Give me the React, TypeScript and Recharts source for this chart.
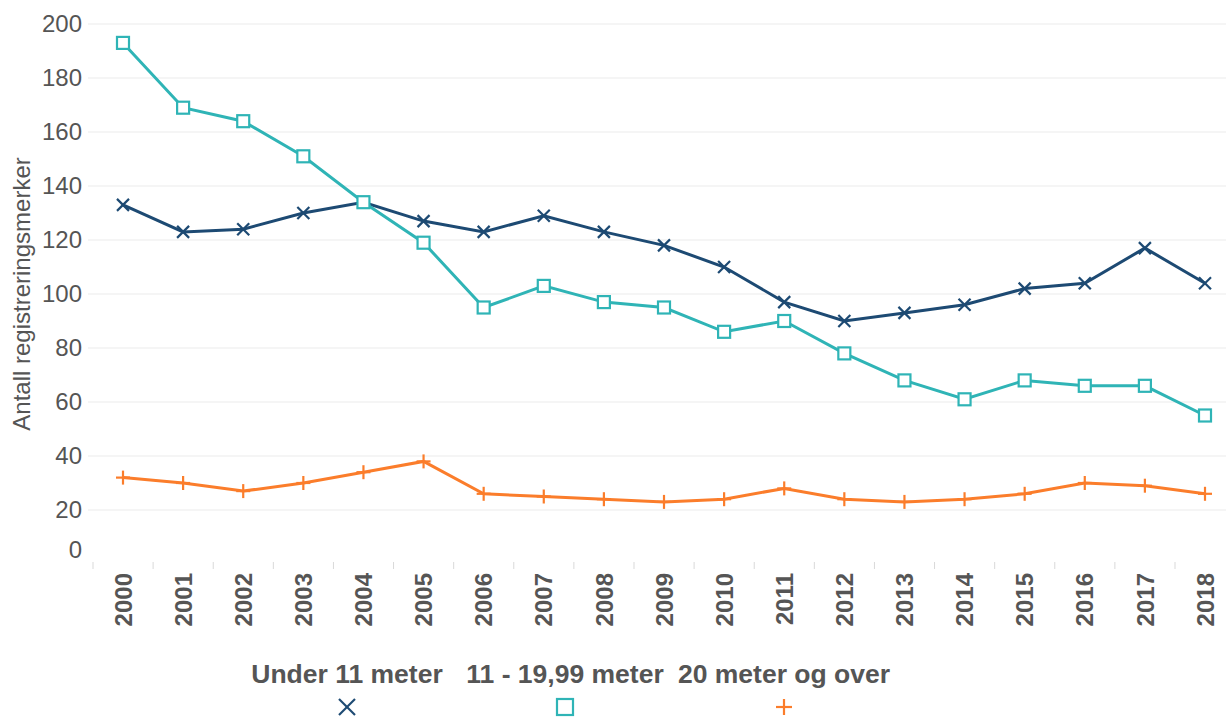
import React from 'react';
import { LineChart, Line, XAxis, YAxis, CartesianGrid } from 'recharts';

const years = ['2000', '2001', '2002', '2003', '2004', '2005', '2006', '2007', '2008', '2009', '2010', '2011', '2012', '2013', '2014', '2015', '2016', '2017', '2018'];
const under11 = [133, 123, 124, 130, 134, 127, 123, 129, 123, 118, 110, 97, 90, 93, 96, 102, 104, 117, 104];
const mid11to20 = [193, 169, 164, 151, 134, 119, 95, 103, 97, 95, 86, 90, 78, 68, 61, 68, 66, 66, 55];
const over20 = [32, 30, 27, 30, 34, 38, 26, 25, 24, 23, 24, 28, 24, 23, 24, 26, 30, 29, 26];
const yTicks = [0, 20, 40, 60, 80, 100, 120, 140, 160, 180, 200];

const NAVY = '#1d4a73';
const TEAL = '#2fb4b6';
const ORANGE = '#fb7d2b';
const TEXT = '#555555';
const FONT = '"Liberation Sans", Arial, sans-serif';

const data = years.map((y, i) => ({
  year: y,
  under11: under11[i],
  mid: mid11to20[i],
  over20: over20[i],
}));

const XMark = ({ cx, cy, color, s = 6 }: any) => (
  <g stroke={color} strokeWidth={2.2}>
    <line x1={cx - s} y1={cy - s} x2={cx + s} y2={cy + s} />
    <line x1={cx - s} y1={cy + s} x2={cx + s} y2={cy - s} />
  </g>
);

const SquareMark = ({ cx, cy, color, s = 6 }: any) => (
  <rect x={cx - s} y={cy - s} width={s * 2} height={s * 2} fill="#fff" stroke={color} strokeWidth={2.2} />
);

const PlusMark = ({ cx, cy, color, s = 7 }: any) => (
  <g stroke={color} strokeWidth={2.2}>
    <line x1={cx - s} y1={cy} x2={cx + s} y2={cy} />
    <line x1={cx} y1={cy - s} x2={cx} y2={cy + s} />
  </g>
);

const YTick = ({ x, y, payload }: any) => (
  <text
    x={x + 2}
    y={payload.value === 0 ? y - 14 : y}
    dy="0.35em"
    textAnchor="end"
    fill={TEXT}
    fontSize={24}
    fontFamily={FONT}
  >
    {payload.value}
  </text>
);

const XTick = ({ x, y, payload }: any) => (
  <g>
    <line x1={x - 30} y1={y - 10} x2={x - 30} y2={y - 3} stroke="#d9d9d9" />
    <text
      transform={`translate(${x},${y + 1}) rotate(-90)`}
      dy="0.36em"
      textAnchor="end"
      fill={TEXT}
      fontSize={24}
      fontWeight="bold"
      fontFamily={FONT}
    >
      {payload.value}
    </text>
  </g>
);

const legendItems = [
  { label: 'Under 11 meter', x: 347, Mark: XMark, color: NAVY },
  { label: '11 - 19,99 meter', x: 565, Mark: SquareMark, color: TEAL },
  { label: '20 meter og over', x: 784, Mark: PlusMark, color: ORANGE },
];

export default function App() {
  return (
    <div style={{ position: 'absolute', left: 0, top: 0, width: 1226, height: 719, background: '#fff' }}>
      <LineChart width={1226} height={719} data={data} margin={{ top: 24, right: 0, left: 0, bottom: 75 }}>
        <CartesianGrid
          vertical={false}
          stroke="#ebebeb"
          horizontalValues={[20, 40, 60, 80, 100, 120, 140, 160, 180, 200]}
        />
        <XAxis
          dataKey="year"
          axisLine={false}
          tickLine={false}
          padding={{ left: 35, right: 21 }}
          tick={<XTick />}
          height={80}
          interval={0}
        />
        <YAxis
          domain={[0, 200]}
          ticks={yTicks}
          axisLine={false}
          tickLine={false}
          width={88}
          tick={<YTick />}
          label={{
            value: 'Antall registreringsmerker',
            angle: -90,
            position: 'insideLeft',
            dx: 16,
            dy: 0,
            style: { fill: TEXT, fontSize: 24, fontFamily: FONT, textAnchor: 'middle' },
          }}
        />
        <Line
          dataKey="under11"
          stroke={NAVY}
          strokeWidth={3}
          isAnimationActive={false}
          dot={(p: any) => <XMark key={`u${p.index}`} cx={p.cx} cy={p.cy} color={NAVY} />}
          activeDot={false}
        />
        <Line
          dataKey="mid"
          stroke={TEAL}
          strokeWidth={3}
          isAnimationActive={false}
          dot={(p: any) => <SquareMark key={`m${p.index}`} cx={p.cx} cy={p.cy} color={TEAL} />}
          activeDot={false}
        />
        <Line
          dataKey="over20"
          stroke={ORANGE}
          strokeWidth={3}
          isAnimationActive={false}
          dot={(p: any) => <PlusMark key={`o${p.index}`} cx={p.cx} cy={p.cy} color={ORANGE} />}
          activeDot={false}
        />
      </LineChart>
      <svg width={1226} height={80} style={{ position: 'absolute', left: 0, top: 645 }}>
        {legendItems.map(({ label, x, Mark, color }) => (
          <g key={label}>
            <text
              x={x}
              y={38}
              textAnchor="middle"
              fill={TEXT}
              fontSize={26.5}
              fontWeight="bold"
              fontFamily={FONT}
            >
              {label}
            </text>
            <Mark cx={x} cy={62} color={color} s={8} />
          </g>
        ))}
      </svg>
    </div>
  );
}
